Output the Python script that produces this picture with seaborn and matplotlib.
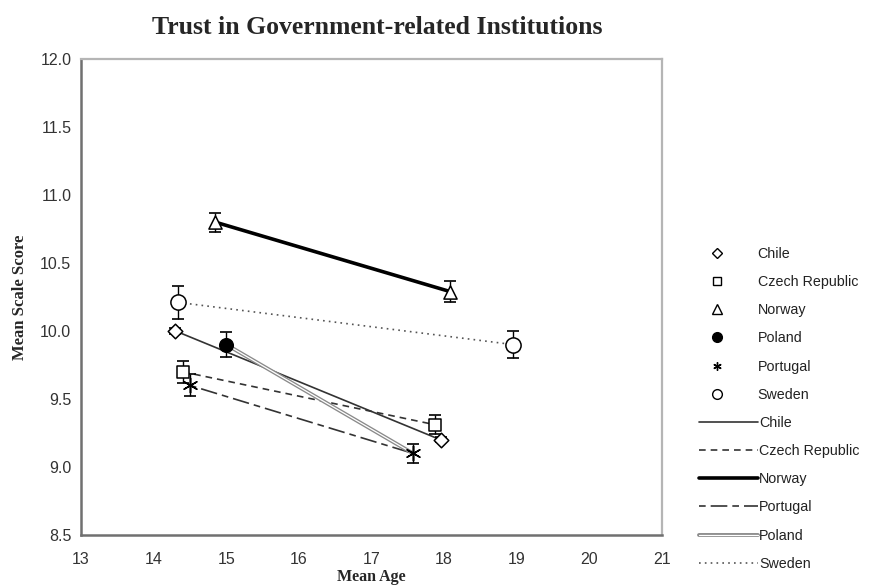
import matplotlib
matplotlib.use("Agg")
import matplotlib.pyplot as plt
import matplotlib.patheffects as pe
from matplotlib.lines import Line2D
import seaborn as sns
import pandas as pd

# Mean age and mean scale score for each country (two age groups)
countries = ["Chile", "Czech Republic", "Norway", "Poland", "Portugal", "Sweden"]
chile_age = [14.3, 17.95]
chile_score = [10.0, 9.2]
chile_err = [0.02, 0.02]
czech_age = [14.4, 17.88]
czech_score = [9.7, 9.31]
czech_err = [0.08, 0.07]
norway_age = [14.85, 18.08]
norway_score = [10.8, 10.29]
norway_err = [0.07, 0.08]
poland_age = [15.0, 17.57]
poland_score = [9.9, 9.1]
poland_err = [0.09, None]
portugal_age = [14.5, 17.57]
portugal_score = [9.6, 9.1]
portugal_err = [0.08, 0.07]
sweden_age = [14.34, 18.95]
sweden_score = [10.21, 9.9]
sweden_err = [0.12, 0.1]

x_ticks = [13, 14, 15, 16, 17, 18, 19, 20, 21]
y_ticks = [8.5, 9.0, 9.5, 10.0, 10.5, 11.0, 11.5, 12.0]

series = {
    "Chile": (chile_age, chile_score, chile_err),
    "Czech Republic": (czech_age, czech_score, czech_err),
    "Norway": (norway_age, norway_score, norway_err),
    "Poland": (poland_age, poland_score, poland_err),
    "Portugal": (portugal_age, portugal_score, portugal_err),
    "Sweden": (sweden_age, sweden_score, sweden_err),
}

rows = []
for name, (ages, scores, errs) in series.items():
    for a, s, e in zip(ages, scores, errs):
        rows.append({"country": name, "age": a, "score": s, "err": e})
df = pd.DataFrame(rows)

sns.set_theme(style="white")
plt.rcParams["font.family"] = ["Liberation Sans", "DejaVu Sans"]

fig = plt.figure(figsize=(8.75, 5.85), dpi=100)
ax = fig.add_axes([0.0926, 0.0855, 0.664, 0.8137])

line_styles = {
    "Chile": dict(color="#333333", lw=1.2, ls="-"),
    "Czech Republic": dict(color="#333333", lw=1.2, ls=(0, (4, 3))),
    "Norway": dict(color="#000000", lw=2.6, ls="-"),
    "Portugal": dict(color="#333333", lw=1.2, ls=(0, (4, 3, 10, 3))),
    "Poland": dict(color="#ffffff", lw=0.9, ls="-",
                   path_effects=[pe.Stroke(linewidth=2.8, foreground="#8a8a8a"), pe.Normal()]),
    "Sweden": dict(color="#555555", lw=1.2, ls=(0, (1, 2.5))),
}

for name in ["Sweden", "Chile", "Czech Republic", "Portugal", "Poland", "Norway"]:
    sub = df[df["country"] == name]
    st = line_styles[name]
    sns.lineplot(data=sub, x="age", y="score", ax=ax, color=st["color"],
                 linewidth=st["lw"], linestyle=st["ls"], legend=False,
                 path_effects=st.get("path_effects"), zorder=2)

marker_styles = {
    "Chile": dict(marker="D", s=55, fc="white"),
    "Czech Republic": dict(marker="s", s=80, fc="white"),
    "Norway": dict(marker="^", s=90, fc="white"),
    "Poland": dict(marker="o", s=95, fc="black"),
    "Portugal": dict(marker=(6, 2, 0), s=110, fc="black"),
    "Sweden": dict(marker="o", s=120, fc="white"),
}

for name in countries:
    sub = df[df["country"] == name].dropna(subset=["err"])
    if name == "Poland":
        sub = sub.iloc[:1]
    ax.errorbar(sub["age"], sub["score"], yerr=sub["err"], fmt="none",
                ecolor="black", elinewidth=1.0, capsize=4, capthick=1.2, zorder=3)
    ms = marker_styles[name]
    sns.scatterplot(data=sub, x="age", y="score", ax=ax, marker=ms["marker"],
                    s=ms["s"], facecolor=ms["fc"], edgecolor="black",
                    linewidth=1.1, legend=False, zorder=4)

ax.set_xlim(13, 21)
ax.set_ylim(8.5, 12.0)
ax.set_xticks(x_ticks)
ax.set_yticks(y_ticks)
ax.set_xticklabels([str(t) for t in x_ticks])
ax.set_yticklabels([f"{t:.1f}" for t in y_ticks])
ax.tick_params(axis="both", direction="out", length=4, width=1.2, color="#555555",
               labelsize=11.5, labelcolor="#333333")
ax.tick_params(axis="x", pad=8)
ax.tick_params(axis="y", pad=3)
for side in ["left", "bottom"]:
    ax.spines[side].set_color("#707070")
    ax.spines[side].set_linewidth(1.8)
for side in ["top", "right"]:
    ax.spines[side].set_color("#b5b5b5")
    ax.spines[side].set_linewidth(1.6)
ax.set_xlabel("")
ax.set_ylabel("")

serif = ["Liberation Serif", "DejaVu Serif"]
fig.text(377 / 875, 1 - 27 / 585, "Trust in Government-related Institutions",
         ha="center", va="center", fontsize=18.5, fontweight="bold", family=serif)
fig.text(371 / 875, 1 - 577 / 585, "Mean Age", ha="center", va="center",
         fontsize=11.5, fontweight="bold", family=serif)
fig.text(20 / 875, 1 - 297 / 585, "Mean Scale Score", ha="center", va="center",
         rotation=90, fontsize=12, fontweight="bold", family=serif)

# Legend: marker entries, then line entries
marker_handles = []
for name in countries:
    ms = marker_styles[name]
    size = {"D": 5, "s": 6, "^": 6.5, "o": 7}.get(ms["marker"], 6) if not isinstance(ms["marker"], tuple) else 6
    marker_handles.append(Line2D([], [], linestyle="none", marker=ms["marker"],
                                 markersize=size, markerfacecolor=ms["fc"],
                                 markeredgecolor="black", markeredgewidth=1.0))
leg1 = fig.legend(marker_handles, countries, loc="upper left",
                  bbox_to_anchor=(706 / 875, 1 - 247 / 585), frameon=False,
                  fontsize=10.3, handlelength=1.5, handletextpad=2.1,
                  labelspacing=0.99, borderpad=0, borderaxespad=0)
for t in leg1.get_texts():
    t.set_color("#222222")

line_order = ["Chile", "Czech Republic", "Norway", "Portugal", "Poland", "Sweden"]
line_handles = []
for name in line_order:
    st = line_styles[name]
    line_handles.append(Line2D([], [], color=st["color"], linewidth=st["lw"],
                               linestyle=st["ls"], path_effects=st.get("path_effects")))
leg2 = fig.legend(line_handles, line_order, loc="upper left",
                  bbox_to_anchor=(699 / 875, 1 - 416 / 585), frameon=False,
                  fontsize=10.3, handlelength=4.1, handletextpad=0.1,
                  labelspacing=0.99, borderpad=0, borderaxespad=0)
for t in leg2.get_texts():
    t.set_color("#222222")

fig.savefig("out.png", dpi=100)
